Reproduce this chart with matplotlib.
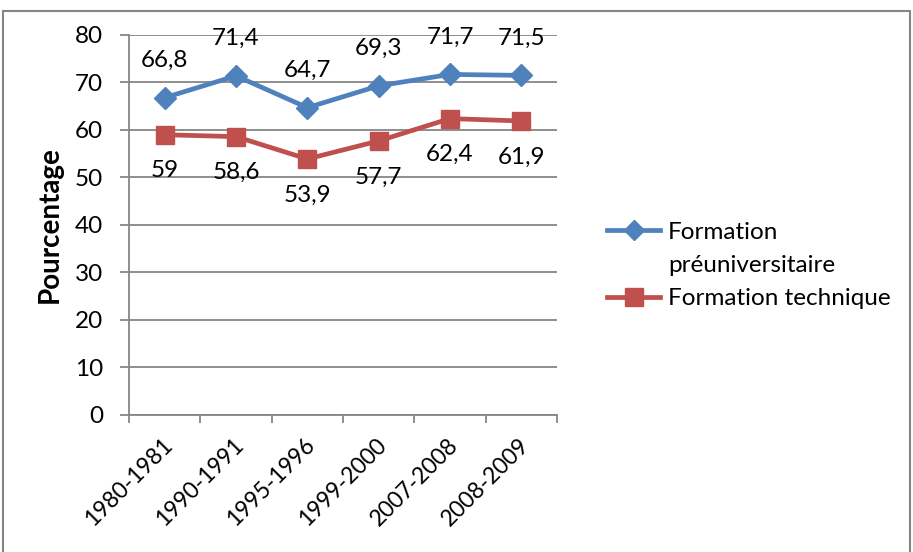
import matplotlib.pyplot as plt
import matplotlib as mtpl
from matplotlib.lines import Line2D
from matplotlib.patches import Rectangle
from matplotlib.transforms import ScaledTranslation

mtpl.rcParams['font.family'] = ['Lato', 'DejaVu Sans']

periods = ['1980-1981', '1990-1991', '1995-1996', '1999-2000', '2007-2008', '2008-2009']
preuniv = [66.8, 71.4, 64.7, 69.3, 71.7, 71.5]
technique = [59, 58.6, 53.9, 57.7, 62.4, 61.9]
preuniv_labels = ['66,8', '71,4', '64,7', '69,3', '71,7', '71,5']
technique_labels = ['59', '58,6', '53,9', '57,7', '62,4', '61,9']

blue = '#4F81BD'
red = '#C0504D'
gray = '#868686'
fs = 17.5

fig = plt.figure(figsize=(9.13, 5.52), dpi=100)
ax = fig.add_axes([0.1413, 0.2482, 0.4688, 0.6884])

# outer frame of the chart
fig.patches.append(Rectangle((3 / 913, -0.05), 907 / 913, 1.04 - 5 / 552, transform=fig.transFigure,
                             fill=False, edgecolor=gray, linewidth=1.5))

x = list(range(len(periods)))
ax.plot(x, preuniv, color=blue, linewidth=3.4, marker='D', markersize=11.5, zorder=3)
ax.plot(x, technique, color=red, linewidth=3.4, marker='s', markersize=13.5, zorder=3)

for i in x:
    ax.annotate(preuniv_labels[i], (i, preuniv[i]), xytext=(0, 27), textcoords='offset points',
                ha='center', va='center', fontsize=fs)
    ax.annotate(technique_labels[i], (i, technique[i]), xytext=(0, -26), textcoords='offset points',
                ha='center', va='center', fontsize=fs)

ax.set_xlim(-0.5, 5.5)
ax.set_ylim(0, 80)
ax.set_yticks(range(0, 81, 10))
ax.set_xticks([i - 0.5 for i in range(7)], minor=False)
ax.set_xticklabels([''] * 7)
ax.set_xticks(x, minor=True)
ax.set_xticklabels(periods, minor=True, rotation=45, ha='right', rotation_mode='anchor', fontsize=16.5)
ax.tick_params(axis='x', which='minor', length=0, pad=14)
ax.tick_params(axis='x', which='major', length=6, color=gray, width=1.3)
ax.tick_params(axis='y', length=6.5, color=gray, width=1.3, labelsize=fs, pad=12)

# nudge the rotated labels a bit to the left
shift = ScaledTranslation(-3 / 100, 0, fig.dpi_scale_trans)
for lab in ax.get_xticklabels(minor=True):
    lab.set_transform(lab.get_transform() + shift)

ax.grid(axis='y', color=gray, linewidth=1.3)
ax.set_axisbelow(True)
for s in ['top', 'right']:
    ax.spines[s].set_visible(False)
for s in ['left', 'bottom']:
    ax.spines[s].set_color(gray)
    ax.spines[s].set_linewidth(1.3)

ax.set_ylabel('Pourcentage', fontsize=20, fontweight='bold')
ax.yaxis.set_label_coords(-0.154, 0.5)

handles = [
    Line2D([], [], color=blue, linewidth=3.4, marker='D', markersize=10),
    Line2D([], [], color='none'),
    Line2D([], [], color=red, linewidth=3.4, marker='s', markersize=12.5),
]
labels = ['Formation', 'préuniversitaire', 'Formation technique']
fig.legend(handles, labels, loc='upper left', bbox_to_anchor=(0.665, 0.598), frameon=False,
           fontsize=fs, handlelength=2.18, handletextpad=0.33, labelspacing=0.5,
           borderpad=0, borderaxespad=0)

plt.savefig('out.png', dpi=100)
